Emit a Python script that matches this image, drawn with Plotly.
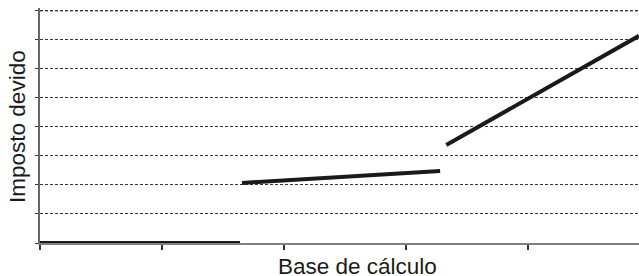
import plotly.graph_objects as go

# Segment data (x in tick units, y in gridline units)
seg1_x = [0.0, 1.64]
seg1_y = [0.0, 0.0]
seg2_x = [1.656, 3.28]
seg2_y = [2.07, 2.48]
seg3_x = [3.33, 4.91]
seg3_y = [3.38, 7.14]

y_ticks = [0, 1, 2, 3, 4, 5, 6, 7, 8]
x_ticks = [0, 1, 2, 3, 4]

x_title = "Base de cálculo"
y_title = "Imposto devido"

fig = go.Figure()
for xs, ys in [(seg1_x, seg1_y), (seg2_x, seg2_y), (seg3_x, seg3_y)]:
    fig.add_trace(go.Scatter(x=xs, y=ys, mode="lines",
                             line=dict(color="#1a1a1a", width=4),
                             showlegend=False, hoverinfo="skip",
                             cliponaxis=False))

fig.update_layout(
    width=639, height=276,
    margin=dict(l=40, r=0, t=8, b=33, autoexpand=False),
    paper_bgcolor="white", plot_bgcolor="white",
    font=dict(family="Liberation Sans, Arial, sans-serif", size=22.5, color="#1a1a1a"),
    xaxis=dict(range=[0, 4.91], tickmode="array", tickvals=x_ticks, showticklabels=False,
               ticks="outside", ticklen=5, tickwidth=2, tickcolor="#333",
               showline=True, linecolor="#808080", linewidth=2,
               showgrid=False, zeroline=False, automargin=False),
    yaxis=dict(range=[0, 8.1], tickmode="array", tickvals=y_ticks, showticklabels=False,
               ticks="outside", ticklen=3, tickwidth=1, tickcolor="#333",
               showline=True, linecolor="#666", linewidth=1.5,
               showgrid=True, gridcolor="#333", gridwidth=1, griddash="3px,2px",
               zeroline=False, automargin=False),
    shapes=[dict(type="line", xref="paper", yref="y", x0=0, x1=1,
                 y0=y_ticks[-1], y1=y_ticks[-1], layer="below",
                 line=dict(color="#333", width=1, dash="3px,2px"))],
    annotations=[
        dict(text=x_title, xref="paper", yref="paper", x=0.530, y=-0.100,
             xanchor="center", yanchor="middle", showarrow=False,
             font=dict(size=22.5)),
        dict(text=y_title, xref="paper", yref="paper", x=-0.0367, y=0.494,
             xanchor="center", yanchor="middle", showarrow=False, textangle=-90,
             font=dict(size=22.5)),
    ],
)

fig.write_html("out.html", config={"displayModeBar": False},
               post_script="document.body.style.margin='0';")
